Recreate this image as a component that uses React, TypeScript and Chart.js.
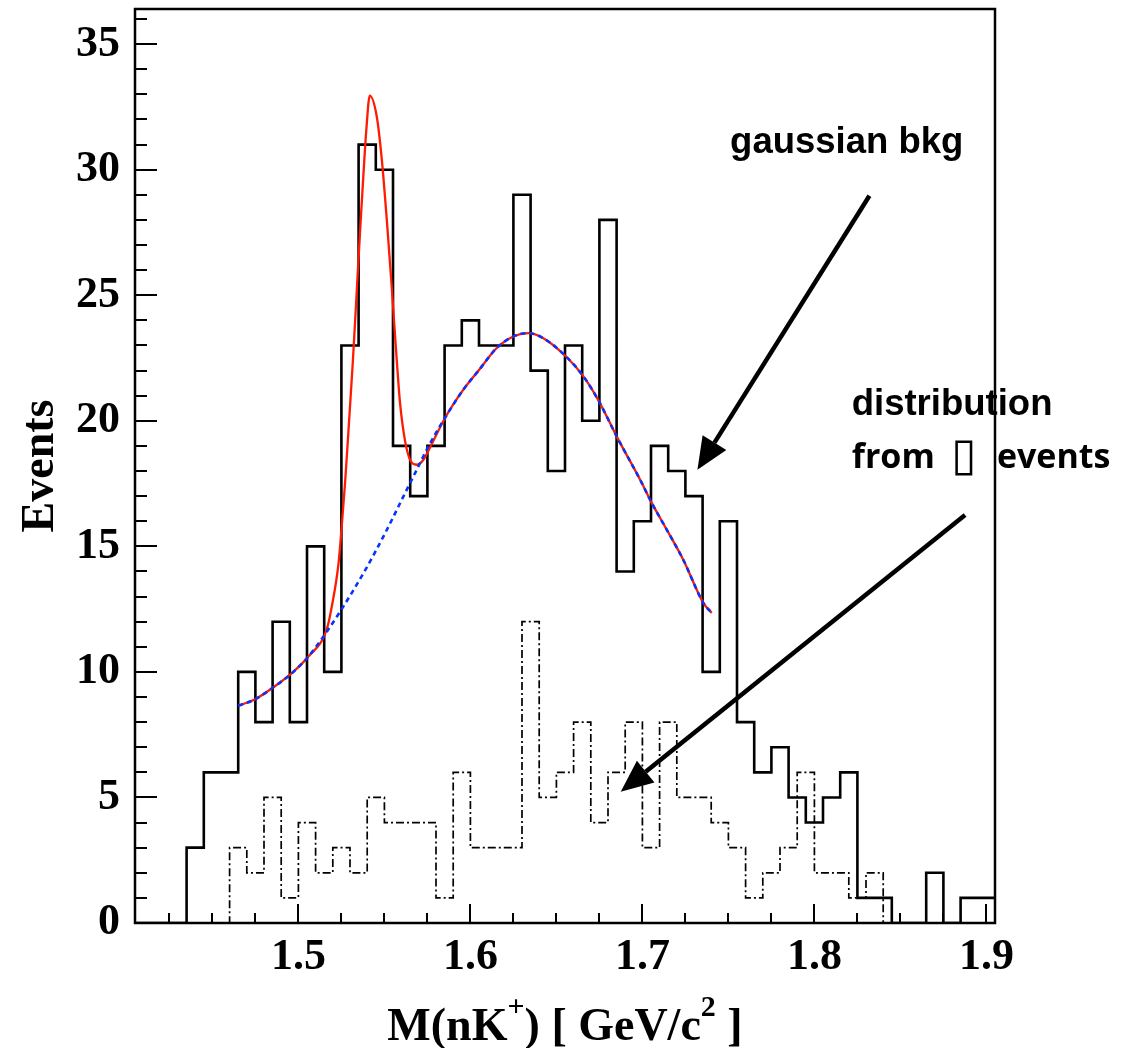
import React, { useEffect, useRef } from "react";
import { Chart, registerables } from "chart.js";

Chart.register(...registerables);

// ---------------- data ----------------
const BIN_WIDTH = 0.01;

// solid histogram: M(nK+) bin centres (GeV/c^2) and events
const massBins = [
  1.41, 1.42, 1.43, 1.44, 1.45, 1.46, 1.47, 1.48, 1.49, 1.5,
  1.51, 1.52, 1.53, 1.54, 1.55, 1.56, 1.57, 1.58, 1.59, 1.6,
  1.61, 1.62, 1.63, 1.64, 1.65, 1.66, 1.67, 1.68, 1.69, 1.7,
  1.71, 1.72, 1.73, 1.74, 1.75, 1.76, 1.77, 1.78, 1.79, 1.8,
  1.81, 1.82, 1.83, 1.84, 1.85, 1.86, 1.87, 1.88, 1.89, 1.9,
];
const events = [
  0, 0, 0, 3, 6, 6, 10, 8, 12, 8,
  15, 10, 23, 31, 30, 19, 17, 19, 23, 24,
  23, 23, 29, 22, 18, 23, 20, 28, 14, 16,
  19, 18, 17, 10, 16, 8, 6, 7, 5, 4,
  5, 6, 1, 1, 0, 0, 2, 0, 1, 1,
];

// dash-dotted histogram (distribution from ▯ events)
const ctrlBins = [
  1.455, 1.465, 1.475, 1.485, 1.495, 1.505, 1.515, 1.525, 1.535, 1.545,
  1.555, 1.565, 1.575, 1.585, 1.595, 1.605, 1.615, 1.625, 1.635, 1.645,
  1.655, 1.665, 1.675, 1.685, 1.695, 1.705, 1.715, 1.725, 1.735, 1.745,
  1.755, 1.765, 1.775, 1.785, 1.795, 1.805, 1.815, 1.825, 1.835, 1.845,
];
const ctrlEvents = [
  0, 3, 2, 5, 1, 4, 2, 3, 2, 5,
  4, 4, 4, 1, 6, 3, 3, 3, 12, 5,
  6, 8, 4, 6, 8, 3, 8, 5, 5, 4,
  3, 1, 2, 3, 6, 2, 2, 1, 2, 0,
];

// total fit (signal + gaussian bkg)
const fitX = [
  1.4651, 1.4748, 1.4855, 1.4962, 1.5058, 1.5165, 1.5194, 1.5233, 1.5252, 1.5272,
  1.5291, 1.5316, 1.5338, 1.5359, 1.5378, 1.5395, 1.5415, 1.5456, 1.5485, 1.5514,
  1.5543, 1.5572, 1.5591, 1.562, 1.5649, 1.5688, 1.5727, 1.5766, 1.5857, 1.5959,
  1.6051, 1.6153, 1.625, 1.6337, 1.6424, 1.6556, 1.6657, 1.6748, 1.6851, 1.6987,
  1.7055, 1.7142, 1.7238, 1.7355, 1.7403,
];
const fitY = [
  8.65, 8.91, 9.39, 9.95, 10.61, 11.7, 12.6, 14.3, 15.8, 17.6,
  19.6, 22.3, 25.0, 27.6, 29.8, 31.6, 32.95, 32.1, 30.4, 28.0,
  25.3, 22.4, 20.7, 19.2, 18.45, 18.25, 18.45, 18.95, 20.17, 21.24,
  22.03, 22.9, 23.36, 23.49, 23.29, 22.56, 21.77, 20.77, 19.37, 17.65,
  16.72, 15.66, 14.46, 12.74, 12.35,
];

// gaussian background component
const bkgX = [
  1.4651, 1.4748, 1.4855, 1.4962, 1.5058, 1.5165, 1.5247, 1.5378, 1.5494, 1.561,
  1.5688, 1.5756, 1.5857, 1.5959, 1.6051, 1.6153, 1.625, 1.6337, 1.6424, 1.6556,
  1.6657, 1.6748, 1.6851, 1.6987, 1.7055, 1.7142, 1.7238, 1.7355, 1.7403,
];
const bkgY = [
  8.65, 8.91, 9.39, 9.95, 10.61, 11.6, 12.45, 13.93, 15.39, 16.98,
  18.05, 18.98, 20.17, 21.24, 22.03, 22.9, 23.36, 23.49, 23.29, 22.56,
  21.77, 20.77, 19.37, 17.65, 16.72, 15.66, 14.46, 12.74, 12.35,
];

// axes
const X_MIN = 1.405;
const X_MAX = 1.905;
const Y_MIN = 0;
const Y_MAX = 36.4;
const xTickValues = [1.5, 1.6, 1.7, 1.8, 1.9];
const yTickValues = [0, 5, 10, 15, 20, 25, 30, 35];
const X_MINOR_STEP = 0.025;
const Y_MINOR_STEP = 1;

const xTitleParts: [string, boolean][] = [
  ["M(nK", false],
  ["+", true],
  [") [ GeV/c", false],
  ["2", true],
  [" ]", false],
];
const yTitle = "Events";

// annotations (data coordinates)
const arrows = [
  { from: [1.832, 28.96], to: [1.732, 18.05] },
  { from: [1.8876, 16.25], to: [1.6874, 5.23] },
];
const notes = [
  { text: "gaussian bkg", at: [1.751, 30.68], font: 'bold 36.5px "Liberation Sans", Arial, sans-serif' },
  { text: "distribution", at: [1.8217, 20.24], font: 'bold 36.5px "Liberation Sans", Arial, sans-serif' },
  { text: "from", at: [1.8217, 18.11], font: 'bold 34px "Open Sans", sans-serif' },
  { text: "\u25AF", at: [1.8795, 18.05], font: '46px "DejaVu Sans", sans-serif' },
  { text: "events", at: [1.9061, 18.11], font: 'bold 34px "Open Sans", sans-serif' },
];

// ---------------- helpers ----------------
function stepPoints(centres: number[], values: number[]) {
  const pts = centres.map((c, i) => ({ x: c - BIN_WIDTH / 2, y: values[i] }));
  const last = centres.length - 1;
  pts.push({ x: centres[last] + BIN_WIDTH / 2, y: values[last] });
  return pts;
}

const SERIF = '"Liberation Serif", "Times New Roman", serif';

const overlayPlugin = {
  id: "overlay",
  afterDraw(chart: any) {
    const { ctx, chartArea: a, scales } = chart;
    const xs = scales.x;
    const ys = scales.y;
    ctx.save();

    // ticks (inside)
    ctx.strokeStyle = "#000";
    ctx.lineWidth = 2;
    ctx.beginPath();
    for (let v = Y_MIN; v <= Y_MAX + 1e-9; v += Y_MINOR_STEP) {
      const y = Math.round(ys.getPixelForValue(v));
      const major = Math.abs(v / 5 - Math.round(v / 5)) < 1e-6;
      ctx.moveTo(a.left, y);
      ctx.lineTo(a.left + (major ? 22 : 12), y);
    }
    const kStart = Math.ceil(X_MIN / X_MINOR_STEP - 1e-6);
    const kEnd = Math.floor(X_MAX / X_MINOR_STEP + 1e-6);
    for (let k = kStart; k <= kEnd; k++) {
      const v = k * X_MINOR_STEP;
      const x = Math.round(xs.getPixelForValue(v));
      const major = k % 4 === 0;
      ctx.moveTo(x, a.bottom);
      ctx.lineTo(x, a.bottom - (major ? 19 : 10));
    }
    ctx.stroke();

    // frame
    ctx.lineWidth = 2.5;
    ctx.strokeRect(a.left, a.top, a.right - a.left, a.bottom - a.top);

    // y title
    ctx.fillStyle = "#000";
    ctx.font = `bold 46px ${SERIF}`;
    ctx.save();
    ctx.translate(53, (a.top + a.bottom) / 2);
    ctx.rotate(-Math.PI / 2);
    ctx.textAlign = "center";
    ctx.textBaseline = "alphabetic";
    ctx.fillText(yTitle, 0, 0);
    ctx.restore();

    // x title with superscripts
    const baseFont = `bold 46px ${SERIF}`;
    const supFont = `bold 30px ${SERIF}`;
    let total = 0;
    for (const [t, sup] of xTitleParts) {
      ctx.font = sup ? supFont : baseFont;
      total += ctx.measureText(t).width;
    }
    let cx = (a.left + a.right) / 2 - total / 2;
    const baseY = 1040;
    ctx.textAlign = "left";
    ctx.textBaseline = "alphabetic";
    for (const [t, sup] of xTitleParts) {
      ctx.font = sup ? supFont : baseFont;
      ctx.fillText(t, cx, sup ? baseY - 24 : baseY);
      cx += ctx.measureText(t).width;
    }

    // arrows
    for (const ar of arrows) {
      const x0 = xs.getPixelForValue(ar.from[0]);
      const y0 = ys.getPixelForValue(ar.from[1]);
      const x1 = xs.getPixelForValue(ar.to[0]);
      const y1 = ys.getPixelForValue(ar.to[1]);
      const ang = Math.atan2(y1 - y0, x1 - x0);
      const headLen = 32;
      const headHalf = 14;
      const bx = x1 - headLen * Math.cos(ang);
      const by = y1 - headLen * Math.sin(ang);
      ctx.lineWidth = 4.5;
      ctx.lineCap = "butt";
      ctx.beginPath();
      ctx.moveTo(x0, y0);
      ctx.lineTo(bx, by);
      ctx.stroke();
      ctx.beginPath();
      ctx.moveTo(x1, y1);
      ctx.lineTo(bx + headHalf * Math.sin(ang), by - headHalf * Math.cos(ang));
      ctx.lineTo(bx - headHalf * Math.sin(ang), by + headHalf * Math.cos(ang));
      ctx.closePath();
      ctx.fill();
    }

    // notes
    ctx.textAlign = "left";
    ctx.textBaseline = "alphabetic";
    for (const n of notes) {
      ctx.font = n.font;
      ctx.fillText(n.text, xs.getPixelForValue(n.at[0]), ys.getPixelForValue(n.at[1]));
    }

    ctx.restore();
  },
};

export default function App() {
  const canvasRef = useRef<HTMLCanvasElement | null>(null);

  useEffect(() => {
    const canvas = canvasRef.current;
    if (!canvas) return;

    const chart = new Chart(canvas, {
      type: "line",
      data: {
        datasets: [
          {
            label: "gaussian bkg",
            data: bkgX.map((x, i) => ({ x, y: bkgY[i] })),
            borderColor: "#0a32ff",
            borderWidth: 2.6,
            borderDash: [5, 4],
            pointRadius: 0,
            cubicInterpolationMode: "monotone",
            fill: false,
            order: 0,
          },
          {
            label: "fit",
            data: fitX.map((x, i) => ({ x, y: fitY[i] })),
            borderColor: "#ff1a00",
            borderWidth: 2.3,
            pointRadius: 0,
            cubicInterpolationMode: "monotone",
            fill: false,
            order: 1,
          },
          {
            label: "data",
            data: stepPoints(massBins, events),
            borderColor: "#000",
            borderWidth: 2.6,
            borderJoinStyle: "miter",
            pointRadius: 0,
            stepped: true,
            fill: false,
            order: 2,
          },
          {
            label: "control",
            data: stepPoints(ctrlBins, ctrlEvents),
            borderColor: "#000",
            borderWidth: 1.7,
            borderDash: [8, 3, 2, 3],
            borderJoinStyle: "miter",
            pointRadius: 0,
            stepped: true,
            fill: false,
            order: 3,
          },
        ],
      } as any,
      options: {
        animation: false,
        responsive: false,
        maintainAspectRatio: false,
        layout: { padding: { left: 0, right: 136, top: 9, bottom: 0 } },
        plugins: {
          legend: { display: false },
          tooltip: { enabled: false },
        },
        scales: {
          x: {
            type: "linear",
            min: X_MIN,
            max: X_MAX,
            grid: { display: false, drawTicks: false },
            border: { display: false },
            afterBuildTicks: (s: any) => {
              s.ticks = xTickValues.map((v) => ({ value: v }));
            },
            afterFit: (s: any) => {
              s.height = 125;
              s.paddingLeft = 0;
              s.paddingRight = 0;
            },
            ticks: {
              autoSkip: false,
              maxRotation: 0,
              padding: 8,
              color: "#000",
              font: { family: SERIF, weight: "bold", size: 44 },
              callback: (v: any) => Number(v).toFixed(1),
            },
          },
          y: {
            type: "linear",
            min: Y_MIN,
            max: Y_MAX,
            grid: { display: false, drawTicks: false },
            border: { display: false },
            afterBuildTicks: (s: any) => {
              s.ticks = yTickValues.map((v) => ({ value: v }));
            },
            afterFit: (s: any) => {
              s.width = 135;
              s.paddingTop = 0;
              s.paddingBottom = 0;
            },
            ticks: {
              autoSkip: false,
              padding: 15,
              color: "#000",
              font: { family: SERIF, weight: "bold", size: 44 },
              callback: (v: any) => String(v),
            },
          },
        },
      } as any,
      plugins: [overlayPlugin],
    });

    return () => chart.destroy();
  }, []);

  return (
    <div style={{ position: "absolute", left: 0, top: 0, width: 1131, height: 1048, background: "#fff" }}>
      <canvas ref={canvasRef} width={1131} height={1048} style={{ display: "block" }} />
    </div>
  );
}
